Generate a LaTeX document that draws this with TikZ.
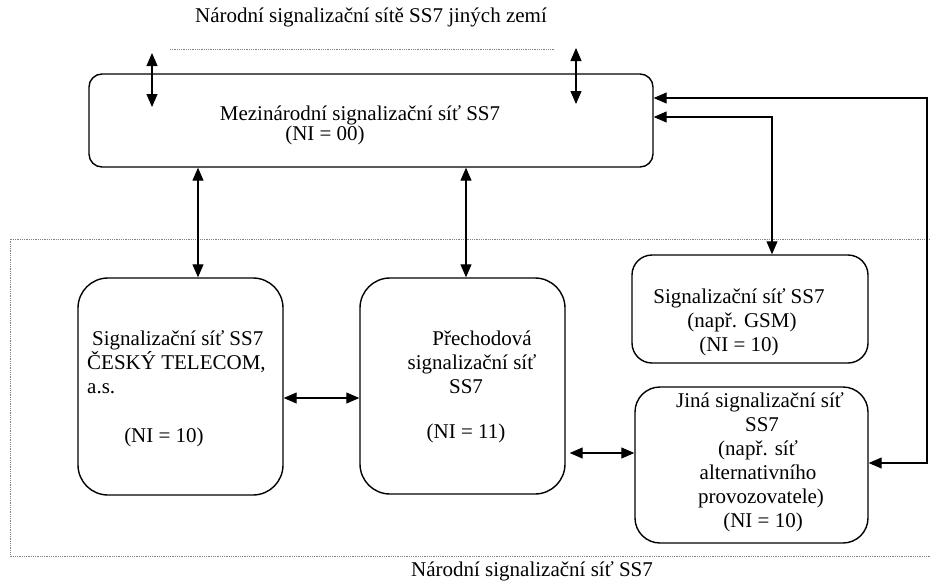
\documentclass[tikz,border=0pt]{standalone}
\usepackage{fontspec}
\setmainfont{Liberation Serif}
\usetikzlibrary{arrows.meta}
\begin{document}
\begin{tikzpicture}[x=1pt,y=-1pt,
  every node/.style={font=\fontsize{21pt}{24pt}\selectfont, inner sep=0pt},
  netbox/.style={draw, line width=1.4pt, inner sep=0pt},
  link/.style={line width=1.1pt, {Triangle[length=13pt,width=11pt]}-{Triangle[length=13pt,width=11pt]}},
  region/.style={gray, line width=0.8pt, densely dotted}]
\useasboundingbox (0,0) rectangle (930,587);

% national region (dotted)
\draw[region] (930,239) -- (10,239) -- (10,556) -- (930,556);
\draw[region] (170,49) -- (555,49);

% boxes
\node[netbox, rounded corners=13pt, minimum width=564pt, minimum height=93pt] (intl) at (371,120.5) {};
\node[netbox, rounded corners=30pt, minimum width=205pt, minimum height=217pt] (ct) at (180.5,386.5) {};
\node[netbox, rounded corners=30pt, minimum width=205pt, minimum height=216pt] (tr) at (462.5,386) {};
\node[netbox, rounded corners=20pt, minimum width=236pt, minimum height=108pt] (gsm) at (750,309) {};
\node[netbox, rounded corners=25pt, minimum width=233pt, minimum height=156pt] (jina) at (751.5,465) {};

% texts
\node (lblother) at (371,17) {Národní signalizační sítě SS7 jiných zemí};
\node (lblnat) at (532,571) {Národní signalizační síť SS7};
\node (intlt1) at (360,115) {Mezinárodní signalizační síť SS7};
\node (intlt2) at (325,135) {(NI = 00)};
\node[align=left, anchor=west] (ctt) at (87,362) {\hspace*{5pt}Signalizační síť SS7\\ČESKÝ TELECOM,\\a.s.};
\node (ctni) at (164,437) {(NI = 10)};
\node[align=center] (trt) at (472,362) {\hspace*{20pt}Přechodová\\signalizační síť\\SS7\hspace*{12pt}};
\node (trni) at (466,433) {(NI = 11)};
\node[align=center] (gsmt) at (739,322) {Signalizační síť SS7\\\hspace*{6pt}(např. GSM)\\(NI = 10)};
\node[align=center] (jinat) at (758,462) {\hspace*{4pt}Jiná signalizační síť\\\hspace*{8pt}SS7\\(např. síť\\alternativního\\\hspace*{6pt}provozovatele)\\\hspace*{10pt}(NI = 10)};

% free arrows to other countries
\coordinate (t1a) at (152,53);
\coordinate (t1b) at (152,107);
\coordinate (t2a) at (576,48);
\coordinate (t2b) at (576,104);
\draw[link] (t1a) -- (t1b);
\draw[link] (t2a) -- (t2b);

% vertical links
\coordinate (x1) at (198,0);
\coordinate (x2) at (466,0);
\draw[link] (intl.south -| x1) -- (ct.north -| x1);
\draw[link] (intl.south -| x2) -- (tr.north -| x2);

% horizontal links
\coordinate (h1) at (0,398);
\coordinate (h2) at (0,453);
\draw[link] (ct.east |- h1) -- (tr.west |- h1);
\draw[link, shorten <=4pt] (tr.east |- h2) -- (jina.west |- h2);

% right side links
\coordinate (g1) at (772,117);
\draw[link] (intl.east |- g1) -- (g1) -- (gsm.north -| g1);
\coordinate (r1) at (927,98);
\coordinate (r2) at (927,463);
\draw[link] (intl.east |- r1) -- (r1) -- (r2) -- (jina.east |- r2);
\end{tikzpicture}
\end{document}
